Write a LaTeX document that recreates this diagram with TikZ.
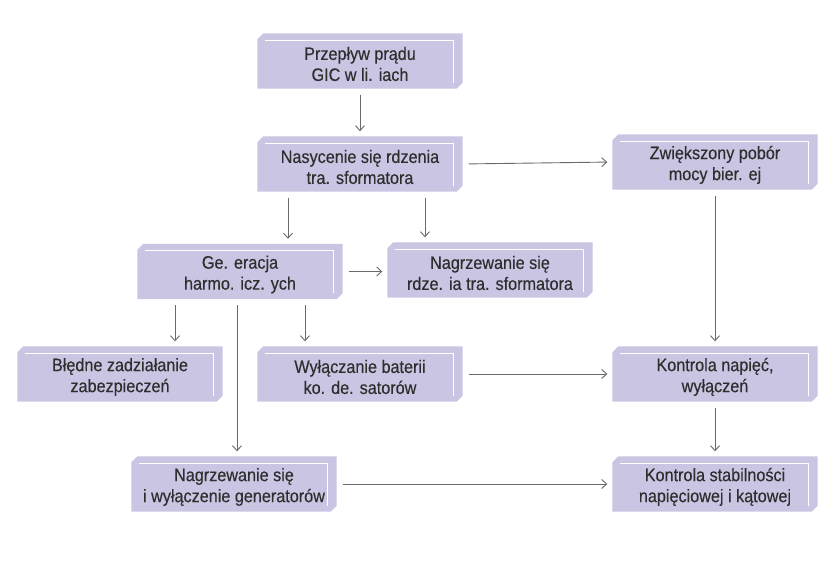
\documentclass[tikz,border=0pt]{standalone}
\usepackage{fontspec}
\setmainfont[FakeStretch=0.9,FakeBold=0.3]{Liberation Sans}
\usetikzlibrary{arrows.meta,backgrounds}
\definecolor{boxfill}{HTML}{C9C5E2}
\definecolor{txt}{HTML}{2E2E2E}
\definecolor{arr}{HTML}{6A6A6A}
\tikzset{
  gbox/.style={minimum width=205pt, minimum height=55pt, inner sep=0pt, align=center,
    text=txt, font=\fontsize{18}{21}\selectfont},
  conn/.style={draw=arr, line width=0.9pt, -{Straight Barb[length=5pt,width=9pt]},
    shorten <=6pt, shorten >=5pt}
}
\newcommand\gbox[3]{%
  \node[gbox] (#1) at (#2) {\rule{0pt}{19pt}#3};
  \begin{scope}[on background layer]
    \fill[boxfill] ([xshift=6pt]#1.north west) -- (#1.north east) -- ([yshift=6pt]#1.south east)
      -- ([xshift=-6pt]#1.south east) -- (#1.south west) -- ([yshift=-6pt]#1.north west) -- cycle;
    \draw[white, line width=0.8pt] ([xshift=8pt,yshift=-7pt]#1.north west)
      -- ([xshift=-9pt,yshift=-7pt]#1.north east) -- ([xshift=-9pt,yshift=6pt]#1.south east);
  \end{scope}}
\begin{document}
\begin{tikzpicture}[x=1pt,y=1pt]
\begin{scope}[on background layer]
\fill[white] (0,0) rectangle (840,574);
\end{scope}
\useasboundingbox (0,0) rectangle (840,574);
\gbox{B1}{360,513}{Przepływ prądu\\GIC w li. iach}
\gbox{B2}{360,410}{Nasycenie się rdzenia\\tra. sformatora}
\gbox{B3}{715,412}{Zwiększony pobór\\mocy bier. ej}
\gbox{B4}{240,302.5}{Ge. eracja\\harmo. icz. ych}
\gbox{B5}{490,304}{Nagrzewanie się\\rdze. ia tra. sformatora}
\gbox{B6}{120,200}{Błędne zadziałanie\\zabezpieczeń}
\gbox{B7}{360,200}{Wyłączanie baterii\\ko. de. satorów}
\gbox{B8}{715,200}{Kontrola napięć,\\wyłączeń}
\gbox{B9}{234,90}{Nagrzewanie się\\i wyłączenie generatorów}
\gbox{B10}{715,90}{Kontrola stabilności\\napięciowej i kątowej}
\draw[conn] (B1.south) -- (B2.north);
\draw[conn] (B2.east) -- (B3.west);
\draw[conn] ([xshift=-72pt]B2.south) -- ([xshift=48pt]B4.north);
\draw[conn] ([xshift=65pt]B2.south) -- ([xshift=-65pt]B5.north);
\draw[conn] (B4.east) -- (B4.east -| B5.west);
\draw[conn] ([xshift=-65pt]B4.south) -- ([xshift=55pt]B6.north);
\draw[conn] ([xshift=65pt]B4.south) -- ([xshift=-55pt]B7.north);
\draw[conn] ([xshift=-3pt]B4.south) -- ([xshift=3pt]B9.north);
\draw[conn] (B7.east) -- (B8.west);
\draw[conn] (B3.south) -- (B8.north);
\draw[conn] (B8.south) -- (B10.north);
\draw[conn] (B9.east) -- (B10.west);
\end{tikzpicture}
\end{document}
